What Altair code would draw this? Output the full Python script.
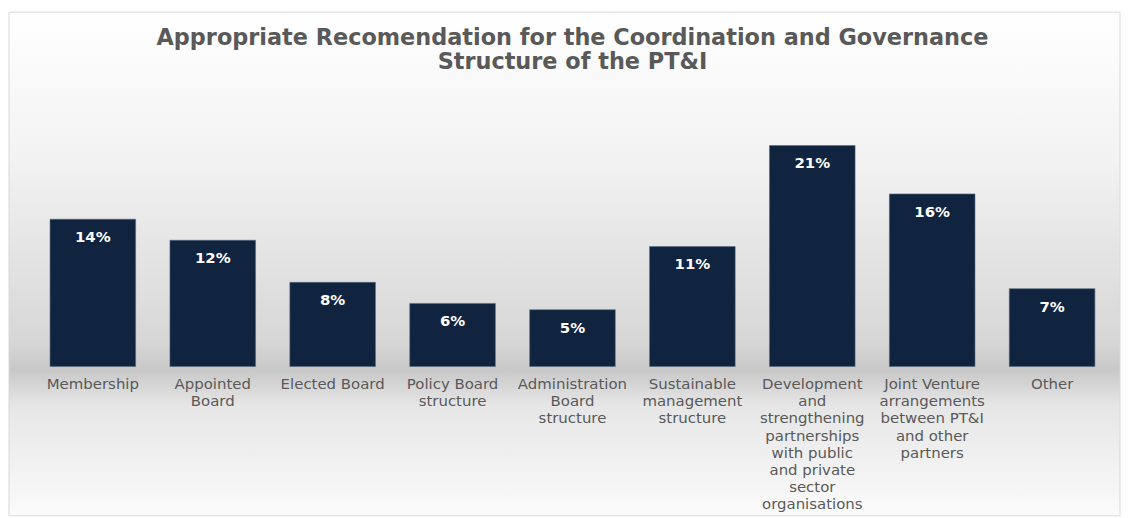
import altair as alt
import pandas as pd

categories = [
    "Membership",
    "Appointed|Board",
    "Elected Board",
    "Policy Board|structure",
    "Administration|Board|structure",
    "Sustainable|management|structure",
    "Development|and|strengthening|partnerships|with public|and private|sector|organisations",
    "Joint Venture|arrangements|between PT&I|and other|partners",
    "Other",
]
values = [14, 12, 8, 6, 5.4, 11.4, 21, 16.4, 7.4]
value_labels = ["14%", "12%", "8%", "6%", "5%", "11%", "21%", "16%", "7%"]

df = pd.DataFrame({"cat": categories, "val": values, "lab": value_labels})

W = 1084
H = 276
YMAX = 26.11

x_enc = alt.X(
    "cat:N",
    sort=None,
    title=None,
    scale=alt.Scale(paddingInner=0.286, paddingOuter=0.143),
    axis=alt.Axis(
        labelExpr="split(datum.value, '|')",
        labelAngle=0,
        labelFont="DejaVu Sans",
        labelFontSize=15,
        labelColor="#595959",
        labelLineHeight=17.3,
        labelPadding=10,
        labelBaseline="top",
        labelLimit=0,
        labelOverlap=False,
        ticks=False,
        domain=False,
        grid=False,
        zindex=2,
    ),
)
y_enc = alt.Y("val:Q", title=None, scale=alt.Scale(domain=[0, YMAX], nice=False, zero=True), axis=None)

bg = alt.Chart(alt.Data(values=[{}])).mark_rect(
    color=alt.Gradient(
        gradient="linear",
        x1=0, x2=0, y1=0, y2=1,
        stops=[
            alt.GradientStop(color="#ffffff", offset=0),
            alt.GradientStop(color="#f2f2f2", offset=0.3),
            alt.GradientStop(color="#d6d6d6", offset=0.66),
            alt.GradientStop(color="#c8c8c8", offset=0.71),
            alt.GradientStop(color="#e6e6e6", offset=0.78),
            alt.GradientStop(color="#fbfbfb", offset=1),
        ],
    ),
    stroke="#d9d9d9",
    strokeWidth=1,
).encode(
    x=alt.value(-24), x2=alt.value(W + 8), y=alt.value(-80), y2=alt.value(H + 150)
)

bars = alt.Chart(df).mark_bar(color="#10233F", stroke="#5a6b80", strokeWidth=0.6).encode(x=x_enc, y=y_enc)

texts = alt.Chart(df).mark_text(
    color="white", font="DejaVu Sans", fontWeight="bold", fontSize=15, baseline="middle", dy=18
).encode(x=alt.X("cat:N", sort=None), y=alt.Y("val:Q"), text="lab:N")

chart = alt.layer(bg, bars, texts).properties(
    width=W,
    height=H,
    padding={"left": 0, "top": 2, "right": 0, "bottom": 0},
    title=alt.TitleParams(
        text=["Appropriate Recomendation for the Coordination and Governance", "Structure of the PT&I"],
        font="DejaVu Sans",
        fontSize=22.5,
        fontWeight="bold",
        color="#595959",
        anchor="middle",
        frame="group",
        lineHeight=24,
        offset=-62,
        zindex=3,
    ),
).configure_view(stroke=None).configure(background="white")

chart.save("out.html", embed_options={"renderer": "svg", "actions": False})
